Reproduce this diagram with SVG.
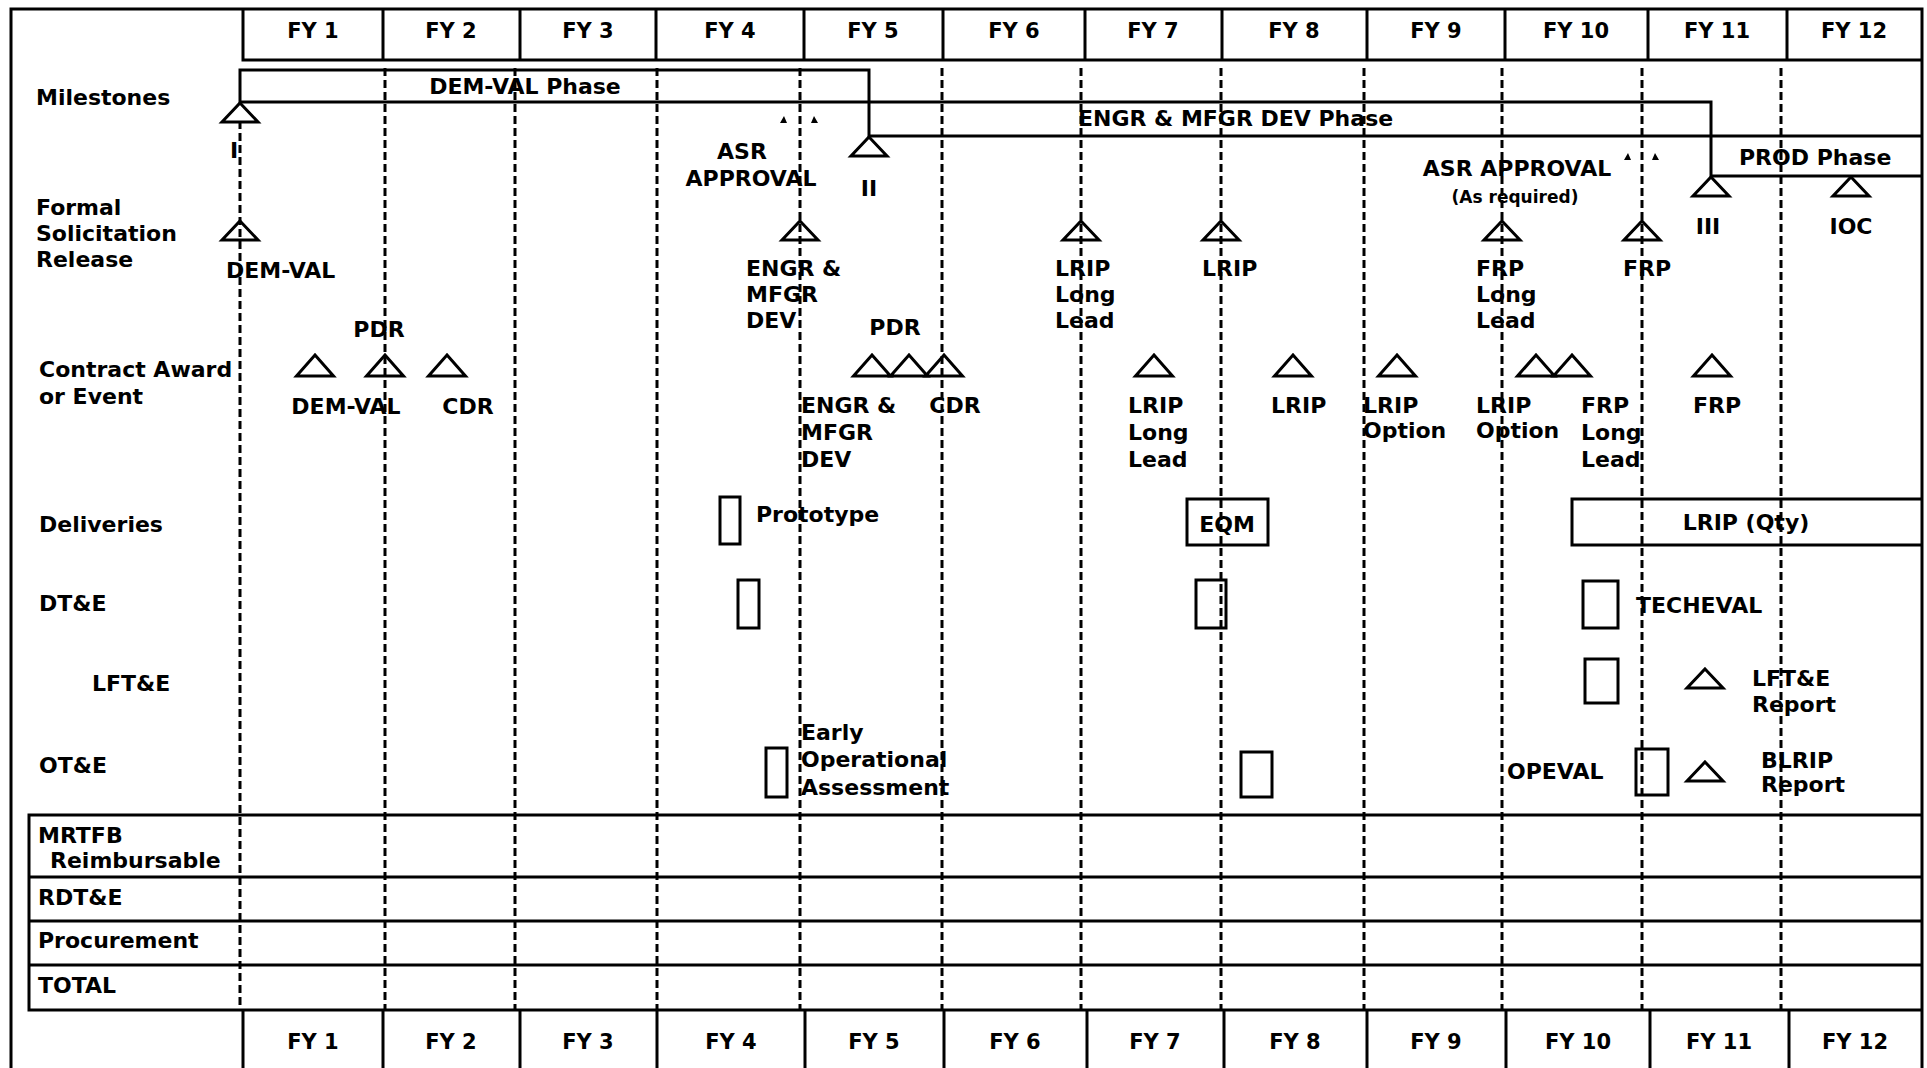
<svg xmlns="http://www.w3.org/2000/svg" width="1927" height="1068" viewBox="0 0 1927 1068">
<style>
.t{font-family:"DejaVu Sans","Liberation Sans",sans-serif;font-weight:bold;font-size:22px;fill:#000}
.m{text-anchor:middle}
.h{font-size:21px;text-anchor:middle}
.s{font-size:17px}
.ln{stroke:#000;stroke-width:3;fill:none}
.dl{stroke:#000;stroke-width:3;stroke-dasharray:8 4;fill:none}
.tri{fill:none;stroke:#000;stroke-width:3;stroke-linejoin:miter}
.box{fill:none;stroke:#000;stroke-width:3}
.mk{fill:#000}
</style>
<defs>
<path id="tr" class="tri" d="M0,0 L18,19 L-18,19 Z"/>
<path id="tr2" class="tri" d="M0,0 L18.5,21 L-18.5,21 Z"/>
</defs>
<rect width="1927" height="1068" fill="#fff"/>

<g id="frame" class="ln">
<path d="M11,1068 V9 H1922 V1068"/>
</g>

<g id="header-top">
<path class="ln" d="M243,9 V60 H1922 M383,9 V60 M520,9 V60 M656,9 V60 M804,9 V60 M943,9 V60 M1085,9 V60 M1222,9 V60 M1367,9 V60 M1505,9 V60 M1648,9 V60 M1787,9 V60"/>
<text class="t h" x="313" y="38">FY 1</text>
<text class="t h" x="451" y="38">FY 2</text>
<text class="t h" x="588" y="38">FY 3</text>
<text class="t h" x="730" y="38">FY 4</text>
<text class="t h" x="873" y="38">FY 5</text>
<text class="t h" x="1014" y="38">FY 6</text>
<text class="t h" x="1153" y="38">FY 7</text>
<text class="t h" x="1294" y="38">FY 8</text>
<text class="t h" x="1436" y="38">FY 9</text>
<text class="t h" x="1576" y="38">FY 10</text>
<text class="t h" x="1717" y="38">FY 11</text>
<text class="t h" x="1854" y="38">FY 12</text>
</g>

<g id="row-labels">
<text class="t" x="36" y="105">Milestones</text>
<text class="t" x="36" y="215">Formal</text>
<text class="t" x="36" y="241">Solicitation</text>
<text class="t" x="36" y="267">Release</text>
<text class="t" x="39" y="377">Contract Award</text>
<text class="t" x="39" y="404">or Event</text>
<text class="t" x="39" y="532">Deliveries</text>
<text class="t" x="39" y="611">DT&amp;E</text>
<text class="t" x="92" y="691">LFT&amp;E</text>
<text class="t" x="39" y="773">OT&amp;E</text>
</g>

<g id="connectors">
<path class="dl" d="M240,121 V1010 M385,68 V1010 M515,68 V1010 M657,68 V1010 M800,68 V1010 M942,68 V1010 M1081,68 V1010 M1221,68 V1010 M1364,68 V1010 M1502,68 V1010 M1642,68 V1010 M1781,68 V1010"/>
</g>

<g id="phase-bars">
<path class="ln" d="M240,103 V70 H869 V137 M240,102 H1711 V177 M869,136 H1922 M1711,176 H1922"/>
<text class="t m" x="525" y="94">DEM-VAL Phase</text>
<text class="t" x="1078" y="126">ENGR &amp; MFGR DEV Phase</text>
<text class="t" x="1739" y="165">PROD Phase</text>
</g>

<g id="milestones">
<use href="#tr" x="240" y="103"/>
<text class="t m" x="234" y="158">I</text>
<use href="#tr" x="869" y="137"/>
<text class="t m" x="869" y="196">II</text>
<use href="#tr" x="1711" y="177"/>
<text class="t m" x="1708" y="234">III</text>
<use href="#tr" x="1851" y="177"/>
<text class="t m" x="1851" y="234">IOC</text>
<text class="t m" x="742" y="159">ASR</text>
<text class="t m" x="751" y="186">APPROVAL</text>
<path class="mk" d="M780,123 l4,-7 l3,7 Z M811,123 l3,-7 l4,7 Z"/>
<text class="t m" x="1517" y="176">ASR APPROVAL</text>
<text class="t m s" x="1515" y="203">(As required)</text>
<path class="mk" d="M1624,160 l4,-7 l3,7 Z M1652,160 l3,-7 l4,7 Z"/>
</g>

<g id="formal-solicitation">
<use href="#tr" x="240" y="221"/>
<text class="t" x="226" y="278">DEM-VAL</text>
<use href="#tr" x="800" y="221"/>
<text class="t" x="746" y="276">ENGR &amp;</text>
<text class="t" x="746" y="302">MFGR</text>
<text class="t" x="746" y="328">DEV</text>
<use href="#tr" x="1081" y="221"/>
<text class="t" x="1055" y="276">LRIP</text>
<text class="t" x="1055" y="302">Long</text>
<text class="t" x="1055" y="328">Lead</text>
<use href="#tr" x="1221" y="221"/>
<text class="t" x="1202" y="276">LRIP</text>
<use href="#tr" x="1502" y="221"/>
<text class="t" x="1476" y="276">FRP</text>
<text class="t" x="1476" y="302">Long</text>
<text class="t" x="1476" y="328">Lead</text>
<use href="#tr" x="1642" y="221"/>
<text class="t" x="1623" y="276">FRP</text>
</g>

<g id="contract-award">
<use href="#tr2" x="315" y="355"/>
<use href="#tr2" x="385" y="355"/>
<use href="#tr2" x="447" y="355"/>
<text class="t m" x="379" y="337">PDR</text>
<text class="t m" x="346" y="414">DEM-VAL</text>
<text class="t m" x="468" y="414">CDR</text>
<use href="#tr2" x="872" y="355"/>
<use href="#tr2" x="909" y="355"/>
<use href="#tr2" x="944" y="355"/>
<text class="t m" x="895" y="335">PDR</text>
<text class="t" x="801" y="413">ENGR &amp;</text>
<text class="t" x="801" y="440">MFGR</text>
<text class="t" x="801" y="467">DEV</text>
<text class="t m" x="955" y="413">CDR</text>
<use href="#tr2" x="1154" y="355"/>
<text class="t" x="1128" y="413">LRIP</text>
<text class="t" x="1128" y="440">Long</text>
<text class="t" x="1128" y="467">Lead</text>
<use href="#tr2" x="1293" y="355"/>
<text class="t" x="1271" y="413">LRIP</text>
<use href="#tr2" x="1397" y="355"/>
<text class="t" x="1363" y="413">LRIP</text>
<text class="t" x="1363" y="438">Option</text>
<use href="#tr2" x="1536" y="355"/>
<use href="#tr2" x="1572" y="355"/>
<text class="t" x="1476" y="413">LRIP</text>
<text class="t" x="1476" y="438">Option</text>
<text class="t" x="1581" y="413">FRP</text>
<text class="t" x="1581" y="440">Long</text>
<text class="t" x="1581" y="467">Lead</text>
<use href="#tr2" x="1712" y="355"/>
<text class="t m" x="1717" y="413">FRP</text>
</g>

<g id="deliveries">
<rect class="box" x="720" y="497" width="20" height="47"/>
<text class="t" x="756" y="522">Prototype</text>
<rect class="box" x="1187" y="499" width="81" height="46"/>
<text class="t m" x="1227" y="532">EQM</text>
<path class="box" d="M1922,499 H1572 V545 H1922"/>
<text class="t m" x="1746" y="530">LRIP (Qty)</text>
</g>

<g id="dte">
<rect class="box" x="738" y="580" width="21" height="48"/>
<rect class="box" x="1196" y="580" width="30" height="48"/>
<rect class="box" x="1583" y="581" width="35" height="47"/>
<text class="t" x="1636" y="613">TECHEVAL</text>
</g>

<g id="lfte">
<rect class="box" x="1585" y="659" width="33" height="44"/>
<use href="#tr" x="1705" y="669"/>
<text class="t" x="1752" y="686">LFT&amp;E</text>
<text class="t" x="1752" y="712">Report</text>
</g>

<g id="ote">
<rect class="box" x="766" y="748" width="21" height="49"/>
<text class="t" x="801" y="740">Early</text>
<text class="t" x="801" y="767">Operational</text>
<text class="t" x="801" y="795">Assessment</text>
<rect class="box" x="1241" y="752" width="31" height="45"/>
<text class="t" x="1507" y="779">OPEVAL</text>
<rect class="box" x="1636" y="749" width="32" height="46"/>
<use href="#tr" x="1705" y="762"/>
<text class="t" x="1761" y="768">BLRIP</text>
<text class="t" x="1761" y="792">Report</text>
</g>

<g id="funding-table">
<path class="ln" d="M1922,815 H29 V1010 H1922 M29,877 H1922 M29,921 H1922 M29,965 H1922"/>
<text class="t" x="38" y="843">MRTFB</text>
<text class="t" x="50" y="868">Reimbursable</text>
<text class="t" x="38" y="905">RDT&amp;E</text>
<text class="t" x="38" y="948">Procurement</text>
<text class="t" x="38" y="993">TOTAL</text>
</g>

<g id="header-bottom">
<path class="ln" d="M243,1010 V1068 M383,1010 V1068 M520,1010 V1068 M657,1010 V1068 M805,1010 V1068 M944,1010 V1068 M1087,1010 V1068 M1224,1010 V1068 M1367,1010 V1068 M1506,1010 V1068 M1650,1010 V1068 M1789,1010 V1068"/>
<text class="t h" x="313" y="1049">FY 1</text>
<text class="t h" x="451" y="1049">FY 2</text>
<text class="t h" x="588" y="1049">FY 3</text>
<text class="t h" x="731" y="1049">FY 4</text>
<text class="t h" x="874" y="1049">FY 5</text>
<text class="t h" x="1015" y="1049">FY 6</text>
<text class="t h" x="1155" y="1049">FY 7</text>
<text class="t h" x="1295" y="1049">FY 8</text>
<text class="t h" x="1436" y="1049">FY 9</text>
<text class="t h" x="1578" y="1049">FY 10</text>
<text class="t h" x="1719" y="1049">FY 11</text>
<text class="t h" x="1855" y="1049">FY 12</text>
</g>
</svg>
